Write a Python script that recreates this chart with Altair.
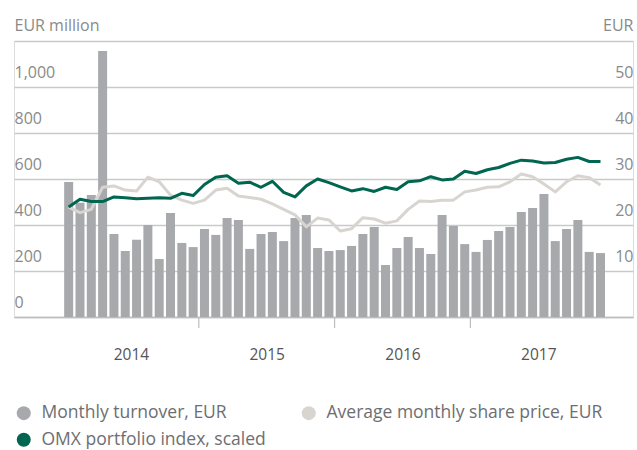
import altair as alt
import pandas as pd

# ---- data (monthly, Jan 2014 - Dec 2017) ----
month_index = list(range(48))
turnover = [587, 497, 530, 1157, 361, 287, 336, 400, 252, 452, 322, 304,
            383, 357, 430, 422, 296, 361, 370, 330, 430, 443, 300, 287,
            291, 309, 361, 391, 226, 300, 348, 300, 274, 443, 396, 317,
            283, 335, 374, 391, 457, 474, 535, 330, 383, 422, 283, 278]
share_price = [23.9, 22.7, 23.4, 28.2, 28.5, 27.6, 27.4, 30.4, 29.4, 26.5, 25.4, 24.7,
               25.4, 27.6, 28.0, 26.3, 26.0, 25.6, 24.6, 23.4, 22.2, 19.6, 21.5, 21.1,
               18.7, 19.2, 21.6, 21.3, 20.4, 20.9, 23.4, 25.2, 25.1, 25.4, 25.4, 27.2,
               27.6, 28.2, 28.3, 29.4, 31.1, 30.5, 28.9, 27.2, 29.4, 30.7, 30.3, 28.7]
omx_scaled = [23.9, 25.6, 25.1, 25.1, 26.1, 25.9, 25.7, 25.8, 25.9, 25.8, 26.9, 26.4,
              28.8, 30.4, 30.7, 29.1, 29.3, 28.2, 29.5, 27.1, 26.1, 28.5, 30.0, 29.2,
              28.3, 27.4, 27.9, 27.3, 28.2, 27.7, 29.4, 29.6, 30.5, 29.8, 30.0, 31.7,
              31.2, 32.0, 32.5, 33.4, 34.1, 33.9, 33.5, 33.6, 34.3, 34.7, 33.8, 33.8]
year_label_positions = [5.5, 17.5, 29.5, 41.5]
year_boundaries = [11.5, 23.5, 35.5]
left_ticks = [0, 200, 400, 600, 800, 1000, 1200]
right_ticks = [0, 10, 20, 30, 40, 50, 60]

S_TURN = "Monthly turnover, EUR"
S_PRICE = "Average monthly share price, EUR"
S_OMX = "OMX portfolio index, scaled"

df = pd.DataFrame({"m": month_index, "turnover": turnover,
                   "price": share_price, "omx": omx_scaled})
bounds = pd.DataFrame({"b": year_boundaries})

FONT = "Open Sans"
GRID = "#c9c9c9"
LABEL = "#8a8a8a"

color_scale = alt.Scale(domain=[S_TURN, S_OMX, S_PRICE],
                        range=["#a7a9ac", "#00664f", "#d8d5d1"])
legend = alt.Legend(orient="none", legendX=1, legendY=363, columns=2,
                    columnPadding=34, rowPadding=8, symbolType="circle",
                    symbolSize=196, symbolStrokeWidth=0, labelFontSize=17.5,
                    labelColor="#6d6e71", labelOffset=9, title=None,
                    labelLimit=400, padding=0, labelFont=FONT)

xscale = alt.Scale(domain=[-4.39, 49.43], nice=False, zero=False)
xaxis = alt.Axis(values=year_label_positions,
                 labelExpr="'' + (2014 + floor(datum.value / 12))",
                 ticks=False, grid=False, domain=True, domainColor="#bdbdbd",
                 domainWidth=1.5, labelPadding=42, labelBaseline="alphabetic",
                 labelFontSize=15.5, labelColor="#555555", labelFont=FONT,
                 labelFlush=False, title=None)

yleft = alt.Axis(values=left_ticks, orient="left",
                 labelExpr="datum.value >= 1200 ? '' : datum.label",
                 grid=True, gridColor=GRID, gridWidth=1.5, ticks=False, tickSize=0,
                 domain=False, labelAlign="left", labelPadding=0,
                 labelBaseline="alphabetic", labelOffset=-10, labelFontSize=16,
                 labelColor=LABEL, labelFont=FONT, labelFlush=False,
                 title="EUR million", titleAngle=0, titleAlign="left",
                 titleBaseline="alphabetic", titleX=0, titleY=-10.5,
                 titleFontSize=16, titleColor=LABEL, titleFont=FONT,
                 titleFontWeight="normal")

yright = alt.Axis(values=right_ticks, orient="right",
                  labelExpr="(datum.value == 0 || datum.value >= 60) ? '' : datum.label",
                  grid=False, ticks=False, tickSize=0, domain=False,
                  labelAlign="right", labelPadding=0, labelBaseline="alphabetic",
                  labelOffset=-10, labelFontSize=16, labelColor=LABEL,
                  labelFont=FONT, labelFlush=False,
                  title="EUR", titleAngle=0, titleAlign="right",
                  titleBaseline="alphabetic", titleX=0, titleY=-10.5,
                  titleFontSize=16, titleColor=LABEL, titleFont=FONT,
                  titleFontWeight="normal")

base = alt.Chart(df)

bars = base.transform_calculate(series=f"'{S_TURN}'").mark_bar(width=9).encode(
    x=alt.X("m:Q", scale=xscale, axis=xaxis),
    y=alt.Y("turnover:Q", scale=alt.Scale(domain=[0, 1200], nice=False), axis=yleft),
    color=alt.Color("series:N", scale=color_scale, legend=legend),
)

rscale = alt.Scale(domain=[0, 60], nice=False)
price_line = base.transform_calculate(series=f"'{S_PRICE}'").mark_line(
    strokeWidth=3, strokeJoin="round").encode(
    x=alt.X("m:Q", scale=xscale),
    y=alt.Y("price:Q", scale=rscale, axis=yright),
    color=alt.Color("series:N", scale=color_scale, legend=legend),
)
omx_line = base.transform_calculate(series=f"'{S_OMX}'").mark_line(
    strokeWidth=3, strokeJoin="round").encode(
    x=alt.X("m:Q", scale=xscale),
    y=alt.Y("omx:Q", scale=rscale),
    color=alt.Color("series:N", scale=color_scale, legend=legend),
)
lines = alt.layer(price_line, omx_line)

year_ticks = alt.Chart(bounds).mark_rule(color="#bdbdbd", strokeWidth=1.2).encode(
    x=alt.X("b:Q", scale=xscale),
    y=alt.value(276),
    y2=alt.value(287),
)

chart = alt.layer(bars, lines, year_ticks).resolve_scale(y="independent").properties(
    width=619, height=276,
    autosize=alt.AutoSizeParams(type="none"),
    padding={"left": 14, "top": 41, "right": 4, "bottom": 133},
).configure_view(stroke=None).configure(font=FONT, background="white")

chart.save("out.html", embed_options={"renderer": "svg", "actions": False})
